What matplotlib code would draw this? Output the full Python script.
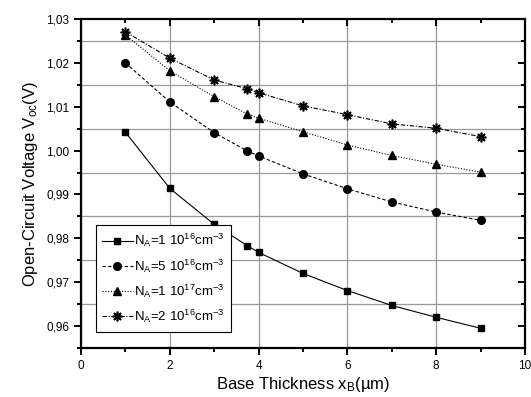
import matplotlib
matplotlib.use("Agg")
import matplotlib.pyplot as plt
from matplotlib.ticker import MultipleLocator, FuncFormatter

plt.rcParams["font.family"] = ["Liberation Sans", "DejaVu Sans"]
plt.rcParams["mathtext.fontset"] = "custom"
plt.rcParams["mathtext.rm"] = "Liberation Sans"
plt.rcParams["mathtext.it"] = "Liberation Sans"

# base thickness [um]
x_b = [1, 2, 3, 3.75, 4, 5, 6, 7, 8, 9]

voc_1e16 = [1.0042, 0.9914, 0.9832, 0.9783, 0.9768, 0.9720, 0.9681, 0.9647, 0.9620, 0.9595]
voc_5e16 = [1.0200, 1.0111, 1.0041, 0.9999, 0.9988, 0.9947, 0.9913, 0.9883, 0.9860, 0.9841]
voc_1e17 = [1.0264, 1.0182, 1.0123, 1.0083, 1.0074, 1.0043, 1.0013, 0.9989, 0.9969, 0.9951]
voc_2e16 = [1.0271, 1.0211, 1.0161, 1.0141, 1.0132, 1.0102, 1.0082, 1.0061, 1.0051, 1.0032]

labels = [r"N$_A$=1 10$^{16}$cm$^{-3}$",
          r"N$_A$=5 10$^{16}$cm$^{-3}$",
          r"N$_A$=1 10$^{17}$cm$^{-3}$",
          r"N$_A$=2 10$^{16}$cm$^{-3}$"]

fig = plt.figure(figsize=(5.31, 3.97), dpi=100)
ax = fig.add_axes([0.1525, 0.1234, 0.8362, 0.8286])

ax.plot(x_b, voc_1e16, color="k", ls="-", lw=0.8, marker="s", ms=5, label=labels[0])
ax.plot(x_b, voc_5e16, color="k", ls=(0, (3, 2)), lw=0.8, marker="o", ms=5.5, label=labels[1])
ax.plot(x_b, voc_1e17, color="k", ls=(0, (1, 1.5)), lw=0.8, marker="^", ms=6, label=labels[2])
ax.plot(x_b, voc_2e16, color="k", ls=(0, (4, 1.5, 1, 1.5)), lw=0.8, marker=(8, 2, 0),
        ms=7, mew=1.2, label=labels[3])

ax.set_xlim(0, 10)
ax.set_ylim(0.955, 1.03)
ax.xaxis.set_major_locator(MultipleLocator(2))
ax.xaxis.set_minor_locator(MultipleLocator(1))
ax.yaxis.set_major_locator(MultipleLocator(0.01))
ax.yaxis.set_minor_locator(MultipleLocator(0.005))
ax.yaxis.set_major_formatter(FuncFormatter(lambda v, p: ("%.2f" % v).replace(".", ",")))
ax.xaxis.set_major_formatter(FuncFormatter(lambda v, p: "%d" % round(v)))

ax.yaxis.grid(True, which="minor", color="0.6", lw=0.9)
ax.xaxis.grid(True, which="major", color="0.6", lw=0.9)
ax.set_axisbelow(True)

for s in ax.spines.values():
    s.set_linewidth(1.6)
ax.tick_params(which="both", direction="out", width=1.4, labelsize=8.5)
ax.tick_params(which="major", length=5)
ax.tick_params(which="minor", length=3)
ax.tick_params(which="both", top=True, right=True)

# top/right ticks point inward in the original
for t in ax.xaxis.get_major_ticks() + ax.xaxis.get_minor_ticks():
    t.tick2line.set_marker(3)
for t in ax.yaxis.get_major_ticks() + ax.yaxis.get_minor_ticks():
    t.tick2line.set_marker(0)

ax.set_xlabel(r"Base Thickness x$_B$(µm)", fontsize=12, labelpad=2)
ax.set_ylabel(r"Open-Circuit Voltage V$_{oc}$(V)", fontsize=12, labelpad=4)

leg = ax.legend(loc="lower left", bbox_to_anchor=(0.018, 0.03), fontsize=9.5,
                fancybox=False, framealpha=1, edgecolor="k", handlelength=2.3,
                handletextpad=0.1, borderpad=0.5, labelspacing=0.6)
leg.get_frame().set_linewidth(0.8)

fig.savefig("out.png", dpi=100)
